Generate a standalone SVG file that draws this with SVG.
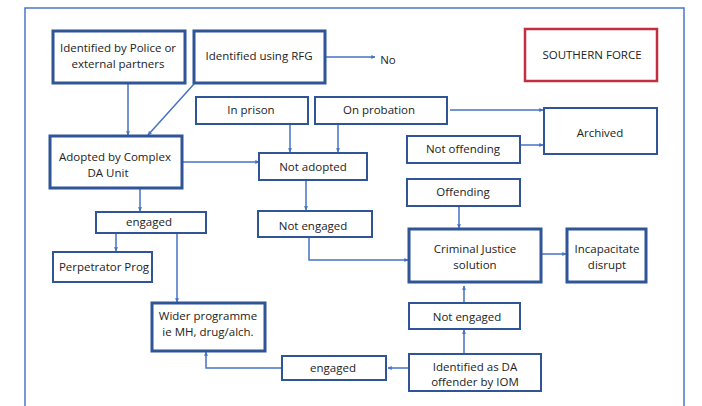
<svg xmlns="http://www.w3.org/2000/svg" width="702" height="406" viewBox="0 0 702 406">
  <defs>
    <marker id="arr" viewBox="0 0 6 6" refX="5.5" refY="3" markerWidth="4" markerHeight="4" markerUnits="userSpaceOnUse" orient="auto">
      <path d="M0,0 L6,3 L0,6 z" fill="#4472c4"/>
    </marker>
    <style>
      .frame { fill: none; stroke: #4a78c8; stroke-width: 1.5; }
      .box { fill: #ffffff; stroke: #2f5597; stroke-width: 2; }
      .thick { stroke-width: 3; }
      .red { fill: #ffffff; stroke: #c0303e; stroke-width: 2.5; }
      .conn { fill: none; stroke: #4472c4; stroke-width: 1.5; }
      .conn path, .conn line, .conn polyline { marker-end: url(#arr); }
      text { font-family: "Open Sans", "Liberation Sans", sans-serif; font-size: 11.5px; fill: #222222; text-anchor: middle; }
    </style>
  </defs>

  <rect x="0" y="0" width="702" height="406" fill="#ffffff"/>
  <!-- outer frame, runs off the bottom edge -->
  <path class="frame" d="M25,416 V8 H684 V416"/>

  <!-- connectors -->
  <g id="connectors" class="conn">
    <line x1="128" y1="84" x2="128" y2="135"/>
    <line x1="194" y1="84" x2="148" y2="135"/>
    <line x1="326" y1="57" x2="375" y2="57"/>
    <line x1="183" y1="162" x2="259" y2="162"/>
    <line x1="290" y1="125" x2="290" y2="152"/>
    <line x1="338" y1="125" x2="338" y2="152"/>
    <line x1="450" y1="110" x2="543" y2="110"/>
    <line x1="521" y1="145" x2="543" y2="145"/>
    <line x1="306" y1="181" x2="306" y2="210"/>
    <polyline points="309,238 309,260 408,260"/>
    <line x1="140" y1="189" x2="140" y2="211"/>
    <line x1="116" y1="234" x2="116" y2="251"/>
    <line x1="177" y1="234" x2="177" y2="302"/>
    <line x1="459" y1="207" x2="459" y2="228"/>
    <line x1="542" y1="254" x2="566" y2="254"/>
    <line x1="464" y1="302" x2="464" y2="286"/>
    <line x1="464" y1="353" x2="464" y2="330"/>
    <line x1="408" y1="368" x2="388" y2="368"/>
    <polyline points="282,368 206,368 206,352"/>
  </g>

  <g id="n-police">
    <rect class="box thick" x="53" y="31" width="132" height="52"/>
    <text x="118" y="52">Identified by Police or</text>
    <text x="118" y="68">external partners</text>
  </g>
  <g id="n-rfg">
    <rect class="box thick" x="194" y="31" width="131" height="52"/>
    <text x="259" y="60">Identified using RFG</text>
  </g>
  <g id="n-no">
    <text x="388" y="64">No</text>
  </g>
  <g id="n-southern">
    <rect class="red" x="525" y="29" width="132" height="52"/>
    <text x="592" y="59">SOUTHERN FORCE</text>
  </g>
  <g id="n-prison">
    <rect class="box" x="196" y="97" width="112" height="27"/>
    <text x="251" y="114">In prison</text>
  </g>
  <g id="n-probation">
    <rect class="box" x="315" y="97" width="132" height="27"/>
    <text x="379" y="114">On probation</text>
  </g>
  <g id="n-archived">
    <rect class="box" x="544" y="108" width="113" height="46"/>
    <text x="600" y="137">Archived</text>
  </g>
  <g id="n-notoffending">
    <rect class="box" x="407" y="136" width="113" height="27"/>
    <text x="463" y="153">Not offending</text>
  </g>
  <g id="n-offending">
    <rect class="box" x="407" y="179" width="113" height="27"/>
    <text x="463" y="196">Offending</text>
  </g>
  <g id="n-adopted">
    <rect class="box thick" x="50" y="136" width="132" height="52"/>
    <text x="115" y="161">Adopted by Complex</text>
    <text x="108" y="177">DA Unit</text>
  </g>
  <g id="n-notadopted">
    <rect class="box" x="259" y="153" width="108" height="27"/>
    <text x="313" y="171">Not adopted</text>
  </g>
  <g id="n-notengaged1">
    <rect class="box" x="258" y="211" width="114" height="26"/>
    <text x="313" y="230">Not engaged</text>
  </g>
  <g id="n-engaged1">
    <rect class="box" x="96" y="212" width="110" height="21"/>
    <text x="149" y="226">engaged</text>
  </g>
  <g id="n-perp">
    <rect class="box" x="53" y="252" width="99" height="30"/>
    <text x="104" y="271">Perpetrator Prog</text>
  </g>
  <g id="n-wider">
    <rect class="box thick" x="152" y="303" width="113" height="48"/>
    <text x="208" y="320">Wider programme</text>
    <text x="208" y="336">ie MH, drug/alch.</text>
  </g>
  <g id="n-engaged2">
    <rect class="box" x="282" y="356" width="104" height="24"/>
    <text x="333" y="372">engaged</text>
  </g>
  <g id="n-cjs">
    <rect class="box thick" x="409" y="229" width="132" height="53"/>
    <text x="475" y="253">Criminal Justice</text>
    <text x="475" y="269">solution</text>
  </g>
  <g id="n-incap">
    <rect class="box thick" x="567" y="229" width="79" height="53"/>
    <text x="607" y="253">Incapacitate</text>
    <text x="607" y="269">disrupt</text>
  </g>
  <g id="n-notengaged2">
    <rect class="box" x="409" y="303" width="111" height="26"/>
    <text x="467" y="321">Not engaged</text>
  </g>
  <g id="n-iom">
    <rect class="box" x="409" y="354" width="132" height="37"/>
    <text x="475" y="371">Identified as DA</text>
    <text x="475" y="386">offender by IOM</text>
  </g>
</svg>
